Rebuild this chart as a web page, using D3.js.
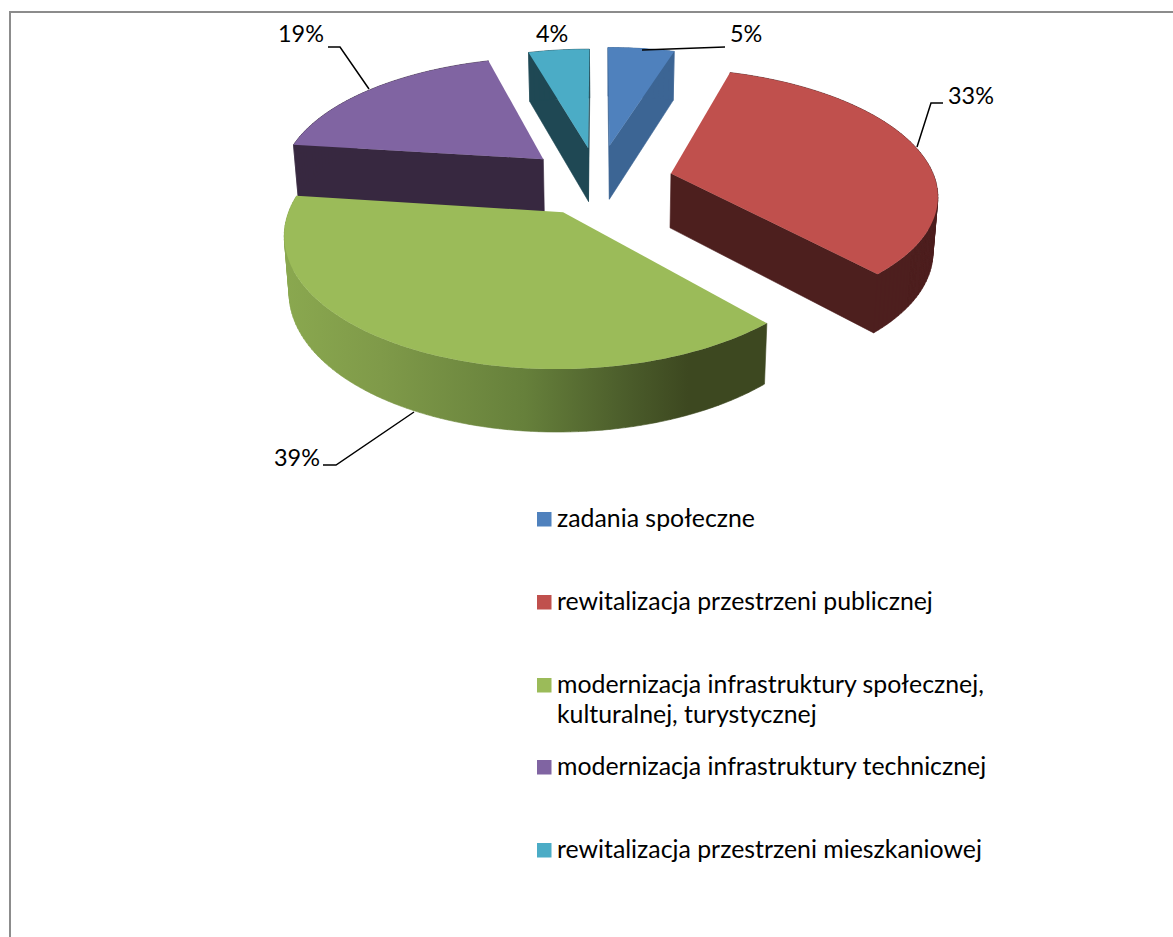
<!DOCTYPE html>
<html lang="pl">
<head>
<meta charset="utf-8">
<title>Wykres</title>
<script src="https://cdnjs.cloudflare.com/ajax/libs/d3/7.8.5/d3.min.js"></script>
<style>
html,body{margin:0;padding:0;background:#fff;overflow:hidden}
svg{display:block}
text{font-family:Lato,"Open Sans",sans-serif;fill:#000}
</style>
</head>
<body>
<svg id="c" width="1173" height="937"></svg>
<script>
// data
const categories = ["zadania społeczne","rewitalizacja przestrzeni publicznej","modernizacja infrastruktury społecznej, kulturalnej, turystycznej","modernizacja infrastruktury technicznej","rewitalizacja przestrzeni mieszkaniowej"];
const legendLines = [["zadania społeczne"],["rewitalizacja przestrzeni publicznej"],["modernizacja infrastruktury społecznej,","kulturalnej, turystycznej"],["modernizacja infrastruktury technicznej"],["rewitalizacja przestrzeni mieszkaniowej"]];
const values = [4.8,33.49,38.71,18.6,4.4];
const labels = ["5%","33%","39%","19%","4%"];
const topColors = ["#4f81bd","#c0504d","#9bbb59","#8064a2","#4bacc6"];
const wallColors = ["#3c6594","#4d1f1e",null,"#372840","#1f4854"];
const explode = [.3,.285,.275,.28,.28];
// layout
const W=1173,H=937;
const proj={cx:598,cy:181,R:264.5,H:123,k:.15};
const depthA=1.044,depthB=46.7,shrink=.985,vpX=609;
const labelX=[730,948,274,278,536], labelY=[42,104,466,42,42];
const leaders=[[[642,50],[725,47]],[[917,147],[931,103],[943,103]],[[414,412],[336,465],[323,465]],[[369,89],[340,47],[328,47]],null];
const legendRowY=[527,610,693,775,858];
const legendX=537, legendSize=14.5, legendTextX=557, legendLineH=30, fontSize=24.85, labelFont=23.4;

const svg=d3.select("#c");
const project=(x,y)=>{const d=1+proj.k*y;return [proj.cx+proj.R*x/d,proj.cy-proj.H*y/d];};
const lower=p=>[vpX+(p[0]-vpX)*shrink,p[1]*depthA+depthB];
const line=d3.line();

// frame
svg.append("path").attr("d","M10,"+H+"V12H"+W).attr("fill","none").attr("stroke","#8c8c8c").attr("stroke-width",2);

const defs=svg.append("defs");
const grad=defs.append("linearGradient").attr("id","greenWall").attr("gradientUnits","userSpaceOnUse").attr("x1",285).attr("x2",765).attr("y1",0).attr("y2",0);
[[0,"#8aa84f"],[.2,"#7f9a49"],[.5,"#66803b"],[.72,"#4a5b2a"],[.84,"#3d4820"],[1,"#3d4820"]].forEach(s=>grad.append("stop").attr("offset",s[0]).attr("stop-color",s[1]));

const arcs=d3.pie().sort(null).startAngle(0).endAngle(2*Math.PI)(values);
const order=[4,0,3,1,2];
order.forEach(i=>{
  const a=arcs[i],mid=(a.startAngle+a.endAngle)/2,e=explode[i];
  const ox=e*Math.sin(mid),oy=e*Math.cos(mid);
  const rim=t=>project(ox+Math.sin(t),oy+Math.cos(t));
  const n=Math.max(8,Math.ceil((a.endAngle-a.startAngle)*40));
  const ts=d3.range(n+1).map(j=>a.startAngle+(a.endAngle-a.startAngle)*j/n);
  const apex=project(ox,oy);
  const top=ts.map(rim);
  const g=svg.append("g").attr("class","slice");
  const fill=i===2?"url(#greenWall)":wallColors[i];
  // side faces: outer wall quads plus front-facing radial walls, all in one same-winding path
  const sideQuads=d3.pairs(top).map(([p,q])=>[p,q,lower(q),lower(p)]);
  [[apex,top[0]],[top[n],apex]].forEach(([p,q])=>{
    const quad=[p,q,lower(q),lower(p)];
    if(d3.polygonArea(quad)>0) sideQuads.push(quad);
  });
  const sideD=sideQuads.map(quad=>line(d3.polygonArea(quad)<0?quad.slice().reverse():quad)+"Z").join("");
  g.append("path").attr("d",sideD).attr("fill",fill).attr("stroke",fill).attr("stroke-width",.6);
  // top face
  g.append("path").attr("d",line([apex].concat(top))+"Z").attr("fill",topColors[i]);
});

// leaders
leaders.forEach(l=>{ if(l) svg.append("path").attr("d",line(l)).attr("fill","none").attr("stroke","#000").attr("stroke-width",1.5); });
// data labels
labels.forEach((t,i)=>svg.append("text").attr("x",labelX[i]).attr("y",labelY[i]).attr("font-size",labelFont).text(t));
// legend
categories.forEach((c,i)=>{
  svg.append("rect").attr("x",legendX).attr("y",legendRowY[i]-15).attr("width",legendSize).attr("height",legendSize).attr("fill",topColors[i]);
  legendLines[i].forEach((t,j)=>svg.append("text").attr("x",legendTextX).attr("y",legendRowY[i]+j*legendLineH).attr("font-size",fontSize).text(t));
});
</script>
</body>
</html>
